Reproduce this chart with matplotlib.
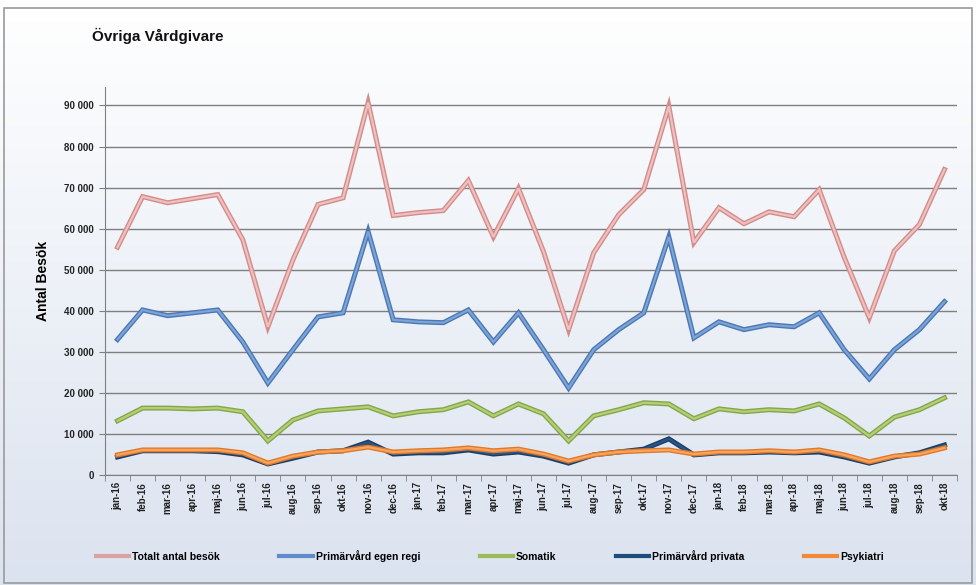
import numpy as np
import matplotlib
matplotlib.use("Agg")
import matplotlib.pyplot as plt
import matplotlib.patheffects as pe
from matplotlib.patches import Rectangle
from matplotlib.lines import Line2D
from matplotlib.ticker import FuncFormatter

months = ["jan-16", "feb-16", "mar-16", "apr-16", "maj-16", "jun-16", "jul-16", "aug-16",
          "sep-16", "okt-16", "nov-16", "dec-16", "jan-17", "feb-17", "mar-17", "apr-17",
          "maj-17", "jun-17", "jul-17", "aug-17", "sep-17", "okt-17", "nov-17", "dec-17",
          "jan-18", "feb-18", "mar-18", "apr-18", "maj-18", "jun-18", "jul-18", "aug-18",
          "sep-18", "okt-18"]

totalt = [55500, 67800, 66300, 67300, 68300, 57300, 36100, 52400, 65900, 67500, 90700, 63200,
          63900, 64400, 71700, 58000, 69800, 54400, 35400, 54100, 63400, 69500, 89800, 56600,
          65100, 61200, 64100, 62900, 69500, 53000, 38300, 54600, 61000, 74400]
egen_regi = [33000, 40200, 38800, 39500, 40200, 32400, 22400, 30500, 38500, 39500, 59300, 37800,
             37300, 37100, 40200, 32400, 39500, 30500, 21200, 30500, 35400, 39500, 58000, 33400,
             37300, 35400, 36600, 36100, 39500, 30500, 23400, 30500, 35400, 42200]
somatik = [13200, 16300, 16300, 16100, 16300, 15400, 8300, 13400, 15600, 16100, 16600, 14400,
           15400, 15900, 17800, 14400, 17300, 14900, 8300, 14400, 15900, 17600, 17300, 13700,
           16100, 15400, 15900, 15600, 17300, 13900, 9500, 14100, 15900, 18800]
privata = [4400, 5900, 5900, 5900, 5700, 4900, 2700, 4100, 5600, 5900, 8000, 5100,
           5400, 5400, 6100, 5100, 5600, 4600, 2900, 4900, 5600, 6300, 8800, 4900,
           5400, 5400, 5600, 5400, 5600, 4400, 2900, 4400, 5400, 7300]
psykiatri = [4900, 6100, 6100, 6100, 6100, 5400, 2900, 4600, 5600, 5900, 6800, 5600,
             5900, 6100, 6600, 5900, 6300, 5100, 3400, 4900, 5600, 5900, 6100, 5100,
             5600, 5600, 5900, 5600, 6100, 4900, 3200, 4600, 5100, 6600]

series_names = ["Totalt antal besök", "Primärvård egen regi", "Somatik",
                "Primärvård privata", "Psykiatri"]
yticks = [0, 10000, 20000, 30000, 40000, 50000, 60000, 70000, 80000, 90000]

plt.rcParams['font.family'] = ['Liberation Sans', 'DejaVu Sans']

W, H = 976, 585
fig = plt.figure(figsize=(W / 100, H / 100), dpi=100)

# background gradient
bg = fig.add_axes([0, 0, 1, 1], zorder=-5)
grad = np.linspace(0, 1, 256).reshape(-1, 1)
top = np.array([1.0, 1.0, 1.0])
bot = np.array([0.86, 0.89, 0.94])
img = top[None, None, :] * (1 - grad[:, :, None]) + bot[None, None, :] * grad[:, :, None]
bg.imshow(img, aspect='auto', extent=[0, 1, 0, 1])
bg.set_axis_off()
fig.patches.append(Rectangle((4 / W, 2 / H), (W - 8) / W, (H - 10) / H, transform=fig.transFigure,
                             fill=False, edgecolor='#9a9a9a', linewidth=1.2, zorder=10))

ax = fig.add_axes([105 / W, 1 - 475 / H, (957 - 105) / W, (475 - 87) / H])
ax.set_facecolor('none')

x = np.arange(len(months))
styles = [
    (totalt, '#eec0bf', '#d38c8a', '#d9a3a2'),
    (egen_regi, '#7ea3d6', '#4a78b5', '#5f8cc8'),
    (somatik, '#b3cf78', '#86a648', '#9bbb59'),
    (privata, '#2a5588', '#1b3d66', '#1f4a7c'),
    (psykiatri, '#f7a55e', '#e07a2a', '#f08a3a'),
]
handles = []
for (vals, inner, outer, leg), name in zip(styles, series_names):
    ax.plot(x, vals, color=inner, lw=1.6, solid_joinstyle='miter',
            path_effects=[pe.Stroke(linewidth=3.6, foreground=outer), pe.Normal()])
    handles.append(Line2D([], [], color=leg, lw=3))

ax.set_xlim(-0.5, len(months) - 0.5)
ax.set_ylim(0, 94500)
ax.set_yticks(yticks)
ax.yaxis.set_major_formatter(FuncFormatter(lambda v, p: f"{int(v):,}".replace(",", " ")))
ax.grid(axis='y', color='#7f7f7f', lw=1.0)
ax.set_axisbelow(True)
ax.set_xticks(x)
ax.set_xticklabels(months, rotation=90, fontsize=7, fontweight='bold', color='#222222')
ax.set_xticks(np.arange(-0.5, len(months), 1), minor=True)
ax.tick_params(axis='x', which='major', length=0, pad=5)
ax.tick_params(axis='x', which='minor', length=4, color='#7f7f7f')
ax.tick_params(axis='y', length=4, color='#7f7f7f', labelsize=7, pad=4)
for lab in ax.get_yticklabels():
    lab.set_fontweight('bold')
    lab.set_color('#222222')
for s in ['top', 'right']:
    ax.spines[s].set_visible(False)
ax.spines['left'].set_color('#7f7f7f')
ax.spines['bottom'].set_color('#7f7f7f')

ax.set_ylabel("Antal Besök", fontsize=10, fontweight='bold', labelpad=10)
fig.text(92 / W, 1 - 36 / H, "Övriga Vårdgivare", fontsize=11, fontweight='bold',
         ha='left', va='center', color='#111111')

fig.legend(handles, series_names, loc='center', bbox_to_anchor=(0.502, 1 - 556 / H), ncol=5,
           frameon=False, prop={'size': 7.5, 'weight': 'bold'}, handlelength=3.2,
           columnspacing=5.7, handletextpad=0.3)

fig.savefig("out.png", dpi=100)
